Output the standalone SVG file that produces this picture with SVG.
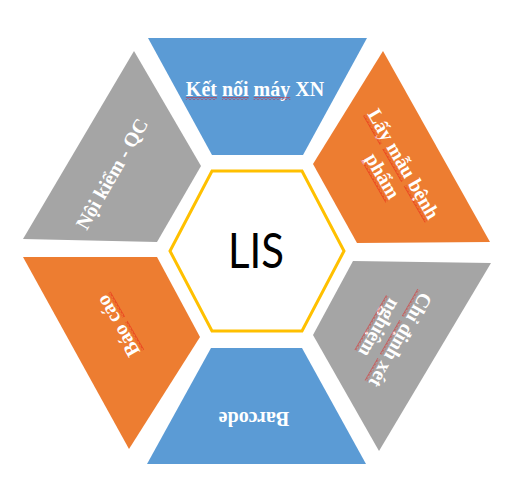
<svg xmlns="http://www.w3.org/2000/svg" width="515" height="492" viewBox="0 0 515 492">
<style>
.blue{fill:#5B9BD5}
.orange{fill:#ED7D31}
.gray{fill:#A5A5A5}
.lbl{font-family:"Liberation Serif","Times New Roman",serif;font-weight:bold;font-size:20px;fill:#FFFFFF;text-anchor:middle}
.sq{fill:url(#sq)}
</style>
<defs>
<pattern id="sq" patternUnits="userSpaceOnUse" x="0" y="0" width="4" height="3">
<path d="M0,2.5 L2,0.5 L4,2.5" stroke="#E81010" stroke-width="0.9" fill="none"/>
</pattern>
</defs>
<rect width="515" height="492" fill="#FFFFFF"/>
<g id="connectors"/>
<g id="seg-ketnoi">
<polygon class="blue" points="148,38 367,38 303,155 212,155"/>
<text class="lbl" x="255" y="95.5">Kết nối máy XN</text>
<rect class="sq" x="185.8" y="97" width="31.1" height="3"/>
<rect class="sq" x="221.9" y="97" width="26.7" height="3"/>
<rect class="sq" x="253.6" y="97" width="36.7" height="3"/>
</g>
<g id="seg-laymau">
<polygon class="orange" points="383,51 490,242 357,243 313,164"/>
<g transform="translate(393,170) rotate(60)">
<text class="lbl" x="0" y="-5.5">Lấy mẫu bệnh</text>
<text class="lbl" x="0" y="18.5">phẩm</text>
<rect class="sq" x="-61.7" y="-4" width="33.3" height="3"/>
<rect class="sq" x="-23.4" y="-4" width="37.8" height="3"/>
<rect class="sq" x="19.4" y="-4" width="42.2" height="3"/>
<rect class="sq" x="-24.5" y="20" width="49" height="3"/>
</g>
</g>
<g id="seg-chidinh">
<polygon class="gray" points="353,261 491,263 379,451 313,335"/>
<g transform="translate(390,334) rotate(120)">
<text class="lbl" x="0" y="-5.5">Chỉ định xét</text>
<text class="lbl" x="0" y="18.5">nghiệm</text>
<rect class="sq" x="-52.8" y="-4" width="31.1" height="3"/>
<rect class="sq" x="-16.7" y="-4" width="38.9" height="3"/>
<rect class="sq" x="27.2" y="-4" width="25.5" height="3"/>
<rect class="sq" x="-31.7" y="20" width="63.3" height="3"/>
</g>
</g>
<g id="seg-barcode">
<polygon class="blue" points="211,348 302,348 366,464 147,464"/>
<g transform="translate(254,418) rotate(180)">
<text class="lbl" x="0" y="6.5">Barcode</text>
</g>
</g>
<g id="seg-baocao">
<polygon class="orange" points="23,257 157,257 200,337 129,449"/>
<g transform="translate(118,326) rotate(-120)">
<text class="lbl" x="0" y="6.5">Báo cáo</text>
<rect class="sq" x="-33.6" y="8" width="33.3" height="3"/>
<rect class="sq" x="4.7" y="8" width="28.9" height="3"/>
</g>
</g>
<g id="seg-noikiem">
<polygon class="gray" points="134,51 201,166 157,242 23,239"/>
<g transform="translate(112,174) rotate(-60)">
<text class="lbl" x="0" y="6.5">Nội kiểm - QC</text>
</g>
</g>
<g id="hub">
<polygon points="212,171 302,171 344,251 302,331 212,331 170,251" fill="#FFFFFF" stroke="#FFC000" stroke-width="3"/>
<text x="256" y="268" font-family="Lato, 'Open Sans', sans-serif" font-size="48" fill="#000000" text-anchor="middle" textLength="56" lengthAdjust="spacingAndGlyphs">LIS</text>
</g>
</svg>
